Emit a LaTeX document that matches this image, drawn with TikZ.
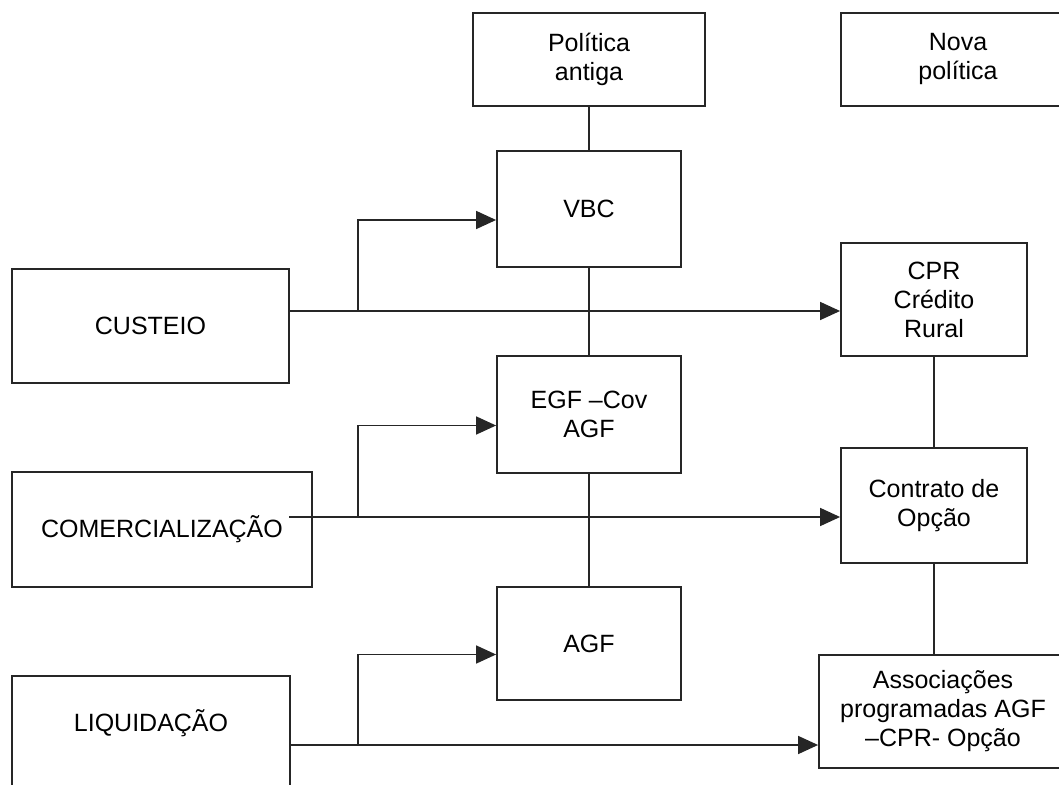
\documentclass[tikz,border=0pt]{standalone}
\usepackage{fontspec}
\setmainfont{Liberation Sans}
\usetikzlibrary{arrows.meta, positioning}
\tikzset{
    box/.style={rectangle, draw=black!85, line width=0.9pt, align=center, inner sep=0pt, font=\fontsize{12.5pt}{14.5pt}\selectfont},
    link/.style={draw=black!85, line width=0.75pt},
    arrow/.style={link, -{Triangle[length=10pt, width=9pt]}}
}

\begin{document}
\begin{tikzpicture}[x=0.5pt, y=-0.5pt]

    \path[use as bounding box] (0,0) rectangle (1059,785);
    \clip (0,0) rectangle (1059,785);

    % Headers
    \node (old) [box, minimum width=116pt, minimum height=46.5pt] at (589,59.5) {Política\\antiga};
    \node (new) [box, minimum width=117pt, minimum height=46.5pt] at (958,59.5) {Nova\\política};

    % Old policy column
    \node (vbc) [box, minimum width=92pt, minimum height=58pt] at (589,209) {VBC};
    \node (egf) [box, minimum width=92pt, minimum height=58.5pt] at (589,414.5) {EGF –Cov\\AGF};
    \node (agf) [box, minimum width=92pt, minimum height=56.5pt] at (589,643.5) {AGF};

    % New policy column
    \node (cpr) [box, minimum width=93pt, minimum height=56.5pt] at (934,299.5) {CPR\\Crédito\\Rural};
    \node (opcao) [box, minimum width=93pt, minimum height=57.5pt] at (934,505.5) {Contrato de\\Opção};
    \node (assoc) [box, minimum width=124pt, minimum height=56.5pt] at (943,711.5) {Associações\\programadas AGF\\–CPR- Opção};

    % Stages
    \node (cust) [box, minimum width=138.5pt, minimum height=57pt] at (150.5,326) {CUSTEIO};
    \node (comerc) [box, minimum width=150pt, minimum height=57.5pt] at (162,529.5) {COMERCIALIZAÇÃO};
    \node (liq) [box, minimum width=139pt, minimum height=64pt] at (151,740) {};
    \node (liqtxt) [font=\fontsize{12.5pt}{14.5pt}\selectfont, inner sep=0pt] at (151,723) {LIQUIDAÇÃO};

    % Branch points
    \coordinate (j1) at (358,311);
    \coordinate (j2) at (358,517);
    \coordinate (j3) at (358,745);
    \coordinate (comercout) at (289,517);

    % Vertical links
    \draw [link] (old) -- (vbc);
    \draw [link] (vbc) -- (egf);
    \draw [link] (egf) -- (agf);
    \draw [link] (cpr) -- (opcao);
    \draw [link] (opcao.south) -- (opcao.south |- assoc.north);

    % Stage arrows
    \draw [arrow] (cust.east |- j1) -- (cpr.west |- j1);
    \draw [arrow] (j1) |- ([yshift=-5.5pt]vbc.west);

    \draw [arrow] (comercout) -- (opcao.west |- j2);
    \draw [arrow] (j2) |- ([yshift=-5.5pt]egf.west);

    \draw [arrow] (liq.east |- j3) -- (assoc.west |- j3);
    \draw [arrow] (j3) |- ([yshift=-5.5pt]agf.west);

\end{tikzpicture}
\end{document}
